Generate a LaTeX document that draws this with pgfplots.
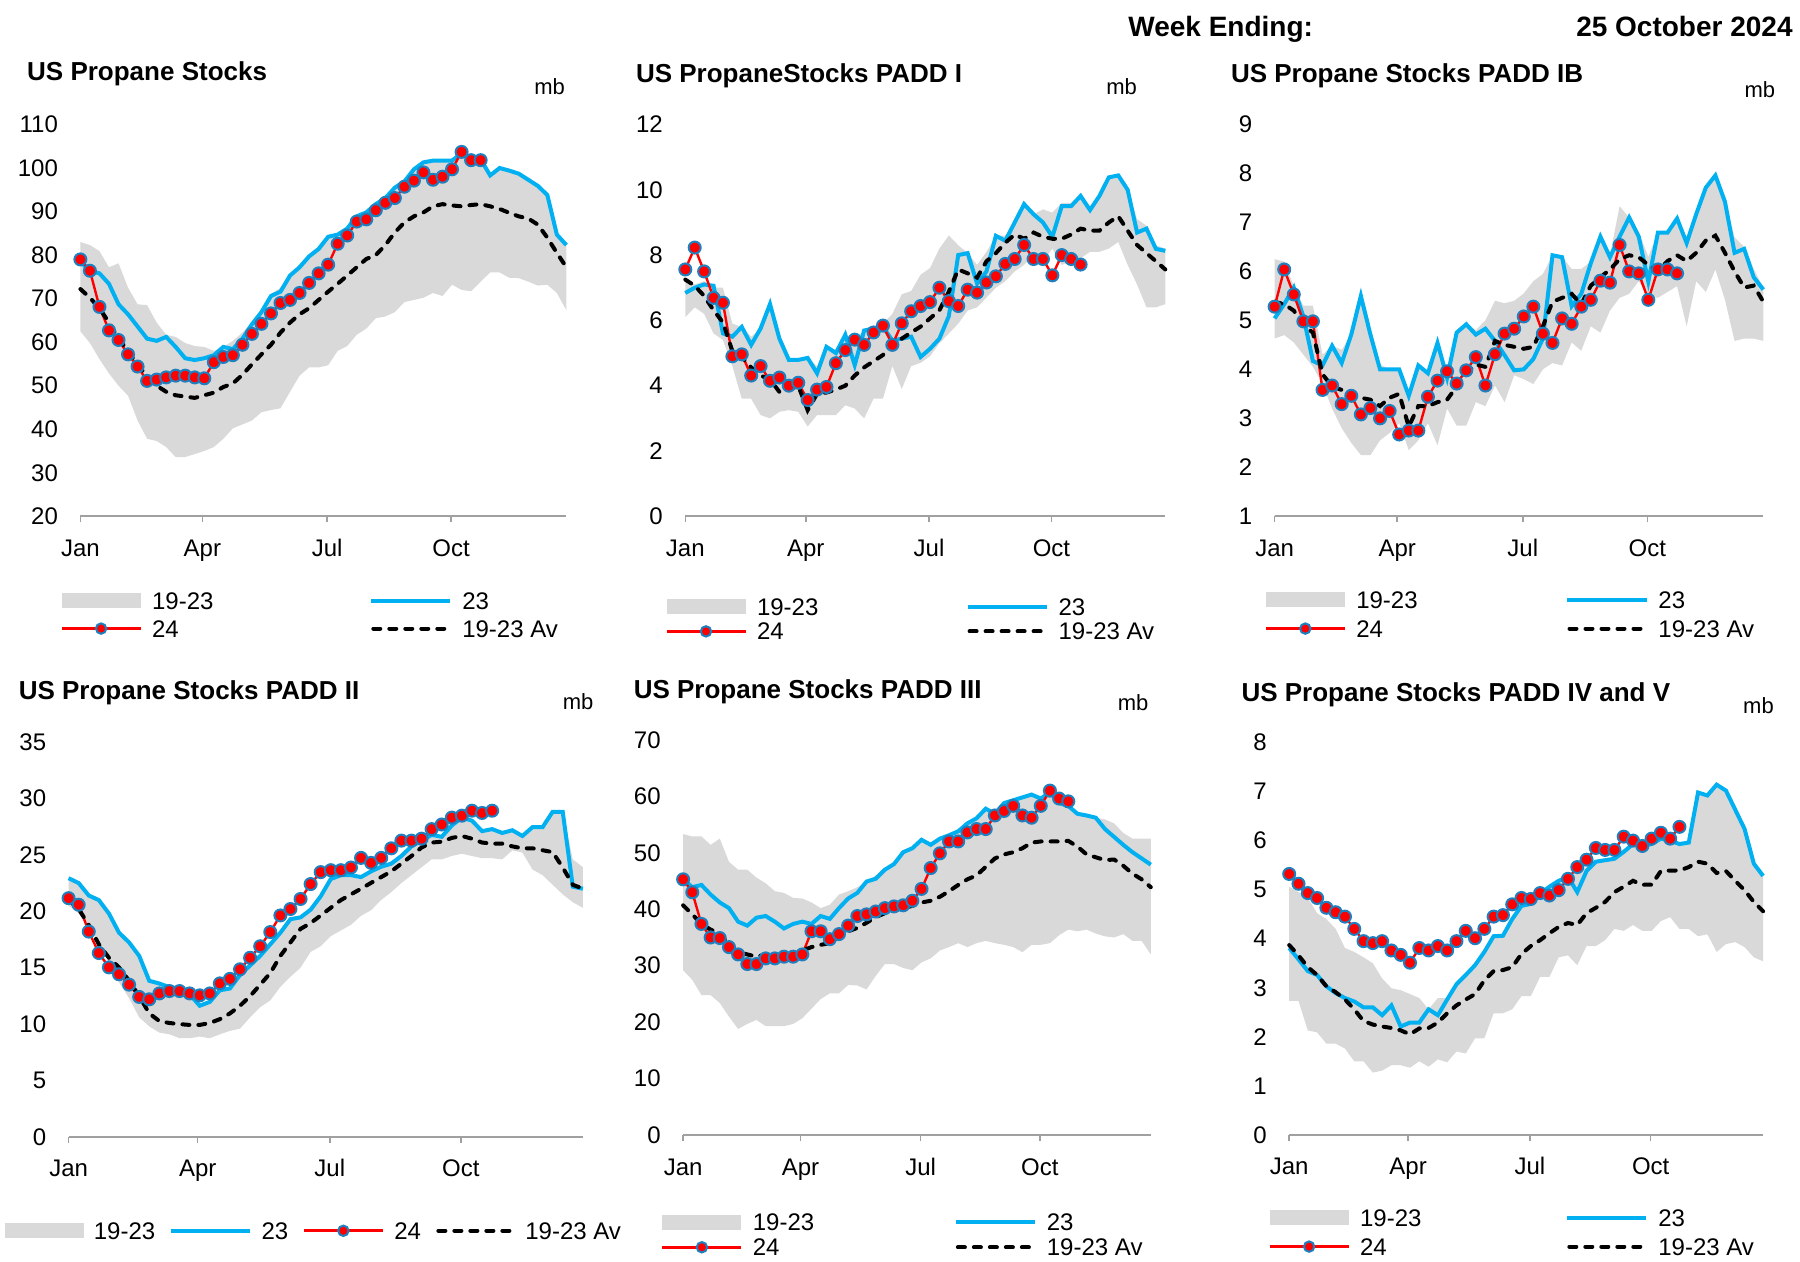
\documentclass[border=0pt]{standalone}
\usepackage{fontspec}
\setmainfont{Liberation Sans}
\usepackage{pgfplots}
\pgfplotsset{compat=1.18}
\usepackage{pgfplotstable}
\usepgfplotslibrary{fillbetween}
\definecolor{bandgray}{RGB}{217,217,217}
\definecolor{c23}{RGB}{0,176,240}
\definecolor{mkblue}{RGB}{30,128,190}
\definecolor{axisgray}{RGB}{160,160,160}
\pgfplotsset{
  panel/.style={
    scale only axis, anchor=south west, clip=false,
    xmin=0, xmax=51, enlargelimits=false,
    axis x line=bottom, axis y line=left,
    x axis line style={-, draw=axisgray, line width=0.8pt},
    y axis line style={draw=none},
    ytick style={draw=none},
    xtick={0,12.8,25.9,38.9}, xticklabels={Jan,Apr,Jul,Oct},
    xtick style={draw=axisgray, line width=0.8pt},
    tick align=outside, major tick length=3pt,
    tick label style={font=\fontsize{12}{14}\selectfont},
    /pgf/number format/assume math mode=true,
    xticklabel style={anchor=base, yshift=-17pt},
    yticklabel style={anchor=east, xshift=-4.7pt},
    legend cell align=left,
    legend style={draw=none, fill=none, inner sep=0pt, outer sep=0pt,
      font=\fontsize{12}{14}\selectfont, column sep=5pt,
      nodes={inner sep=0pt, text height=9.6pt, text depth=1pt}, anchor=north west},
  },
  band/.style={fill=bandgray, draw=none,
    legend image code/.code={\fill[bandgray] (0pt,-3.75pt) rectangle (39.5pt,3.75pt);}},
  l23/.style={c23, line width=2pt, no marks,
    legend image code/.code={\draw[c23, line width=2pt] (0pt,0pt) -- (39.5pt,0pt);}},
  l24/.style={red, line width=1.2pt, mark=*, mark size=3pt,
    mark options={fill=red, draw=mkblue, line width=1pt, solid},
    legend image code/.code={\draw[red, line width=1.5pt] (0pt,0pt) -- (39.5pt,0pt);
      \draw[mark=*, mark size=2.6pt, mark options={fill=red, draw=mkblue, line width=1pt}] plot coordinates {(19.75pt,0pt)};}},
  lav/.style={black, line width=2pt, line cap=round, dash pattern=on 3.5pt off 4.5pt, no marks,
    legend image code/.code={\draw[black, line width=2pt, line cap=round, dash pattern=on 3.5pt off 4.5pt] (1pt,0pt) -- (38.5pt,0pt);}},
}
% ---------------- US total
\pgfplotstableread[row sep=\\]{
w lo hi c av\\
0 62.5 83.0 78.5 72.2\\
1 59.8 82.3 76.4 70.2\\
2 56.1 80.9 75.8 67.8\\
3 52.8 77.2 73.4 64.5\\
4 50.0 78.1 68.7 60.8\\
5 47.7 72.5 66.4 58.0\\
6 42.0 68.7 63.6 54.7\\
7 37.8 68.5 60.8 52.3\\
8 37.3 64.5 60.3 50.0\\
9 35.9 61.7 61.2 48.6\\
10 33.6 61.2 58.9 47.8\\
11 33.6 59.8 56.3 47.5\\
12 34.3 59.1 55.9 47.2\\
13 35.0 58.9 56.3 47.8\\
14 35.9 58.0 57.0 48.4\\
15 37.8 58.9 58.9 49.7\\
16 40.2 60.3 58.4 50.5\\
17 41.1 62.2 60.8 52.5\\
18 42.0 64.5 64.1 54.9\\
19 43.9 67.3 66.9 57.2\\
20 44.4 71.1 70.6 59.4\\
21 44.8 72.5 71.6 62.2\\
22 48.6 75.3 75.3 64.5\\
23 52.3 77.2 77.2 66.4\\
24 54.2 79.7 79.7 67.8\\
25 54.2 81.4 81.4 69.7\\
26 54.7 84.2 84.2 71.6\\
27 58.0 84.7 84.7 73.4\\
28 59.1 86.1 86.1 75.3\\
29 61.7 88.9 88.9 77.2\\
30 63.1 89.8 89.8 79.1\\
31 65.5 91.7 91.7 80.0\\
32 65.9 93.1 93.1 82.3\\
33 66.9 95.5 95.5 85.2\\
34 69.2 96.9 96.9 87.5\\
35 69.7 99.7 99.7 88.9\\
36 70.2 101.3 101.3 89.8\\
37 71.3 101.7 101.7 91.2\\
38 70.6 101.7 101.7 91.7\\
39 73.2 101.7 101.7 91.4\\
40 72.0 103.4 103.4 91.2\\
41 71.7 102.0 102.0 91.5\\
42 73.9 102.0 102.0 91.7\\
43 76.0 98.7 98.3 91.2\\
44 76.0 100.0 100.0 90.6\\
45 74.8 99.4 99.4 89.7\\
46 74.7 98.7 98.7 88.9\\
47 73.9 97.3 97.3 88.4\\
48 73.0 95.9 95.9 87.0\\
49 73.2 94.1 93.8 84.0\\
50 71.3 85.2 84.7 80.5\\
51 67.3 82.8 82.3 77.2\\
}\tA
\pgfplotstableread[row sep=\\]{
v\\ 79.0\\ 76.4\\ 68.1\\ 62.7\\ 60.5\\ 57.2\\ 54.4\\ 51.1\\ 51.4\\ 51.9\\ 52.3\\ 52.3\\ 51.9\\ 51.7\\ 55.4\\ 56.6\\ 57.0\\ 59.4\\ 61.9\\ 64.2\\ 66.6\\ 69.0\\ 69.7\\ 71.3\\ 73.6\\ 75.8\\ 77.8\\ 82.6\\ 84.5\\ 87.7\\ 88.2\\ 90.3\\ 92.0\\ 93.1\\ 95.7\\ 97.1\\ 99.0\\ 97.3\\ 98.0\\ 99.7\\ 103.7\\ 101.8\\ 101.8\\
}\tAr
% ---------------- PADD I
\pgfplotstableread[row sep=\\]{
w lo hi c av\\
0 6.1 7.3 6.84 7.25\\
1 6.4 7.1 7.0 7.06\\
2 6.2 7.2 7.1 6.75\\
3 5.6 7.0 7.06 6.31\\
4 5.4 7.0 5.6 5.94\\
5 4.6 5.9 5.5 5.06\\
6 3.6 5.8 5.8 4.88\\
7 3.6 5.5 5.25 4.56\\
8 3.1 5.75 5.75 4.31\\
9 3.0 6.5 6.5 4.19\\
10 3.2 5.44 5.44 3.81\\
11 3.25 4.8 4.79 3.88\\
12 3.2 4.79 4.79 4.0\\
13 2.75 4.85 4.85 3.25\\
14 3.1 4.6 4.38 3.75\\
15 3.1 5.19 5.19 3.79\\
16 3.1 5.1 5.0 3.88\\
17 3.4 5.56 5.56 4.0\\
18 3.3 5.4 4.63 4.31\\
19 3.0 5.69 5.69 4.56\\
20 3.6 5.8 5.75 4.75\\
21 3.6 5.9 5.81 4.94\\
22 4.6 6.2 5.38 5.31\\
23 3.9 6.8 5.44 5.44\\
24 4.6 6.9 5.5 5.63\\
25 4.7 7.4 4.88 5.81\\
26 4.9 7.6 5.13 6.06\\
27 5.3 8.2 5.44 6.31\\
28 5.6 8.6 6.13 6.88\\
29 5.9 8.3 8.0 7.56\\
30 6.3 8.06 8.06 7.44\\
31 6.4 7.7 7.13 7.31\\
32 6.7 8.1 7.5 7.81\\
33 7.0 8.59 8.59 8.06\\
34 7.2 8.6 8.44 8.38\\
35 7.5 9.0 9.0 8.63\\
36 7.7 9.56 9.56 8.5\\
37 8.0 9.25 9.25 8.69\\
38 7.8 9.4 9.0 8.56\\
39 8.2 9.3 8.56 8.5\\
40 7.7 9.6 9.5 8.5\\
41 7.8 9.6 9.5 8.63\\
42 7.9 9.81 9.81 8.81\\
43 8.1 9.4 9.38 8.75\\
44 8.1 9.81 9.81 8.75\\
45 8.2 10.38 10.38 9.0\\
46 8.4 10.44 10.44 9.19\\
47 7.7 10.0 10.0 8.75\\
48 7.1 9.1 8.69 8.31\\
49 6.4 8.9 8.81 8.06\\
50 6.4 8.3 8.19 7.81\\
51 6.5 8.2 8.13 7.56\\
}\tB
\pgfplotstableread[row sep=\\]{
v\\ 7.56\\ 8.23\\ 7.5\\ 6.69\\ 6.54\\ 4.9\\ 4.96\\ 4.31\\ 4.6\\ 4.15\\ 4.25\\ 4.0\\ 4.09\\ 3.56\\ 3.88\\ 3.96\\ 4.69\\ 5.09\\ 5.41\\ 5.25\\ 5.63\\ 5.84\\ 5.25\\ 5.91\\ 6.28\\ 6.44\\ 6.56\\ 7.0\\ 6.59\\ 6.44\\ 6.94\\ 6.85\\ 7.16\\ 7.35\\ 7.73\\ 7.88\\ 8.31\\ 7.88\\ 7.88\\ 7.38\\ 8.0\\ 7.88\\ 7.71\\
}\tBr
% ---------------- PADD IB
\pgfplotstableread[row sep=\\]{
w lo hi c av\\
0 4.63 6.25 5.04 5.38\\
1 4.7 6.2 5.33 5.33\\
2 4.55 5.7 5.67 5.2\\
3 4.3 5.3 5.08 4.9\\
4 4.05 5.3 4.17 4.75\\
5 3.7 4.3 4.08 3.9\\
6 3.2 4.48 4.48 3.65\\
7 2.8 4.4 4.13 3.58\\
8 2.5 4.71 4.71 3.46\\
9 2.25 5.5 5.5 3.42\\
10 2.25 4.71 4.71 3.38\\
11 2.55 4.1 4.0 3.25\\
12 2.7 4.0 4.0 3.42\\
13 2.9 4.0 4.0 3.5\\
14 2.35 3.5 3.46 2.83\\
15 2.55 4.1 4.08 3.25\\
16 2.9 3.95 3.92 3.25\\
17 2.45 4.54 4.54 3.33\\
18 3.2 3.9 3.83 3.38\\
19 2.85 4.8 4.75 3.65\\
20 2.85 4.95 4.92 3.92\\
21 3.33 4.8 4.71 4.1\\
22 3.25 5.0 4.83 4.05\\
23 3.67 5.4 4.58 4.58\\
24 3.33 5.35 4.29 4.5\\
25 3.88 5.4 3.98 4.46\\
26 3.8 5.55 4.0 4.42\\
27 3.7 5.8 4.21 4.46\\
28 4.0 5.95 4.63 4.88\\
29 4.13 6.33 6.33 5.38\\
30 4.08 6.3 6.29 5.46\\
31 4.55 6.05 5.29 5.54\\
32 4.38 6.05 5.54 5.33\\
33 4.88 6.2 6.17 5.71\\
34 4.75 6.71 6.71 5.88\\
35 5.2 6.33 6.29 6.04\\
36 5.46 7.33 6.71 6.25\\
37 5.54 7.1 7.1 6.33\\
38 5.8 6.8 6.71 6.29\\
39 5.5 6.3 5.79 6.13\\
40 5.46 6.8 6.79 6.0\\
41 5.58 6.8 6.79 6.21\\
42 5.7 7.1 7.08 6.33\\
43 4.88 6.6 6.58 6.21\\
44 5.8 7.2 7.17 6.38\\
45 5.58 7.71 7.71 6.63\\
46 6.04 7.96 7.96 6.73\\
47 5.42 7.42 7.42 6.38\\
48 4.58 6.7 6.38 6.0\\
49 4.63 6.5 6.46 5.67\\
50 4.63 6.05 5.88 5.71\\
51 4.58 5.67 5.63 5.38\\
}\tC
\pgfplotstableread[row sep=\\]{
v\\ 5.28\\ 6.04\\ 5.53\\ 4.98\\ 4.98\\ 3.58\\ 3.67\\ 3.29\\ 3.46\\ 3.08\\ 3.21\\ 3.0\\ 3.15\\ 2.67\\ 2.75\\ 2.75\\ 3.44\\ 3.77\\ 3.96\\ 3.71\\ 3.98\\ 4.25\\ 3.67\\ 4.31\\ 4.73\\ 4.83\\ 5.08\\ 5.28\\ 4.73\\ 4.54\\ 5.04\\ 4.93\\ 5.28\\ 5.42\\ 5.81\\ 5.77\\ 6.54\\ 6.0\\ 5.96\\ 5.42\\ 6.04\\ 6.04\\ 5.96\\
}\tCr
% ---------------- PADD II
\pgfplotstableread[row sep=\\]{
w lo hi c av\\
0 20.5 22.93 22.93 20.99\\
1 19.8 22.5 22.5 20.2\\
2 18.8 21.4 21.4 18.78\\
3 17.1 20.99 20.99 17.07\\
4 15.5 19.8 19.8 15.88\\
5 13.7 18.1 18.1 15.03\\
6 12.3 17.24 17.24 13.84\\
7 10.6 16.05 16.05 12.48\\
8 9.8 13.84 13.84 10.95\\
9 9.25 13.6 13.6 10.27\\
10 9.1 13.27 13.27 10.1\\
11 8.75 13.16 13.16 10.0\\
12 8.75 12.65 12.65 9.93\\
13 8.9 11.8 11.63 9.93\\
14 8.75 12.0 11.97 10.1\\
15 9.1 13.0 13.0 10.44\\
16 9.4 13.3 13.16 10.95\\
17 9.6 14.35 14.35 11.63\\
18 10.6 15.2 15.2 12.48\\
19 11.5 16.05 16.05 13.5\\
20 12.1 17.07 17.07 14.52\\
21 13.3 18.1 18.1 16.05\\
22 14.2 19.3 19.3 17.24\\
23 15.0 19.5 19.46 18.44\\
24 16.4 20.14 20.14 18.95\\
25 16.9 21.33 21.33 19.63\\
26 17.8 22.86 22.86 20.31\\
27 18.3 23.2 23.2 20.99\\
28 18.8 23.2 23.2 21.5\\
29 19.6 23.03 23.03 22.0\\
30 20.1 23.54 23.54 22.52\\
31 21.0 23.95 23.95 23.03\\
32 21.7 24.22 24.22 23.54\\
33 22.5 24.9 24.9 24.22\\
34 23.2 25.75 25.75 24.9\\
35 23.9 26.26 26.26 25.65\\
36 24.6 26.77 26.77 26.09\\
37 24.6 26.6 26.6 26.16\\
38 24.9 27.8 27.6 26.5\\
39 25.1 28.3 28.3 26.67\\
40 24.9 28.03 28.03 26.43\\
41 24.7 27.1 27.1 26.09\\
42 24.7 27.28 27.28 25.99\\
43 24.6 26.94 26.94 25.99\\
44 25.4 27.18 27.18 25.75\\
45 25.2 26.67 26.67 25.58\\
46 23.7 27.45 27.45 25.58\\
47 23.2 27.45 27.45 25.41\\
48 22.35 28.81 28.81 25.24\\
49 21.5 28.81 28.81 23.88\\
50 20.8 24.6 22.18 22.35\\
51 20.3 23.9 22.0 22.0\\
}\tD
\pgfplotstableread[row sep=\\]{
v\\ 21.16\\ 20.58\\ 18.2\\ 16.3\\ 15.03\\ 14.42\\ 13.5\\ 12.41\\ 12.2\\ 12.72\\ 12.93\\ 12.93\\ 12.72\\ 12.55\\ 12.72\\ 13.61\\ 14.01\\ 14.86\\ 15.88\\ 16.9\\ 18.16\\ 19.63\\ 20.2\\ 21.09\\ 22.41\\ 23.47\\ 23.64\\ 23.64\\ 23.88\\ 24.73\\ 24.29\\ 24.73\\ 25.58\\ 26.26\\ 26.26\\ 26.43\\ 27.28\\ 27.69\\ 28.3\\ 28.47\\ 28.91\\ 28.71\\ 28.91\\
}\tDr
% ---------------- PADD III
\pgfplotstableread[row sep=\\]{
w lo hi c av\\
0 29.2 53.3 45.3 40.7\\
1 27.5 52.9 43.9 39.1\\
2 24.8 52.9 44.3 37.4\\
3 24.8 51.4 42.6 36.4\\
4 23.4 52.5 41.2 35.7\\
5 21.0 48.4 40.2 33.7\\
6 18.8 47.0 37.8 32.4\\
7 19.7 47.0 37.1 32.0\\
8 20.4 45.6 38.5 31.6\\
9 19.3 44.6 38.8 32.0\\
10 19.3 43.2 37.8 32.0\\
11 19.3 42.9 36.6 31.5\\
12 19.7 42.0 37.4 31.8\\
13 20.7 41.9 37.8 32.7\\
14 22.4 41.2 37.4 33.3\\
15 24.1 40.2 38.8 33.7\\
16 25.1 40.8 38.3 34.0\\
17 25.1 42.6 40.2 35.2\\
18 26.6 43.2 41.9 36.1\\
19 26.5 43.9 42.9 36.7\\
20 25.8 44.9 44.9 37.6\\
21 28.2 46.0 45.4 38.6\\
22 30.3 47.0 47.0 39.3\\
23 30.3 48.0 48.0 39.8\\
24 29.6 50.1 50.1 40.2\\
25 29.2 50.8 50.8 40.6\\
26 30.6 52.3 52.3 41.2\\
27 31.3 51.4 51.4 41.5\\
28 32.7 52.5 52.5 42.2\\
29 33.3 53.1 53.1 43.2\\
30 34.0 53.8 53.8 44.3\\
31 33.3 55.2 55.2 45.3\\
32 34.0 56.1 56.1 46.0\\
33 34.4 57.8 57.8 47.5\\
34 34.0 56.9 56.9 49.0\\
35 33.7 58.8 58.8 49.7\\
36 33.3 59.3 59.3 50.1\\
37 32.4 59.8 59.8 50.8\\
38 33.7 60.3 60.3 51.8\\
39 33.7 59.6 59.6 52.0\\
40 34.0 60.7 60.7 52.0\\
41 35.4 58.8 58.8 52.0\\
42 36.4 58.3 58.3 52.1\\
43 36.1 56.9 56.9 51.1\\
44 36.4 56.6 56.6 49.7\\
45 35.7 56.2 56.2 49.2\\
46 35.2 55.9 54.2 48.7\\
47 35.0 55.2 52.8 48.8\\
48 35.6 53.5 51.4 47.7\\
49 34.4 52.5 50.1 46.3\\
50 34.4 52.5 49.0 45.3\\
51 32.0 52.5 47.9 43.9\\
}\tE
\pgfplotstableread[row sep=\\]{
v\\ 45.3\\ 43.0\\ 37.4\\ 35.0\\ 34.9\\ 33.3\\ 32.0\\ 30.3\\ 30.3\\ 31.3\\ 31.3\\ 31.6\\ 31.6\\ 32.0\\ 36.1\\ 36.1\\ 34.7\\ 35.6\\ 37.1\\ 38.8\\ 39.1\\ 39.6\\ 40.2\\ 40.5\\ 40.7\\ 41.5\\ 43.6\\ 47.3\\ 49.9\\ 52.0\\ 52.0\\ 53.6\\ 54.2\\ 54.2\\ 56.6\\ 57.4\\ 58.3\\ 56.6\\ 56.2\\ 58.3\\ 61.0\\ 59.6\\ 59.1\\
}\tEr
% ---------------- PADD IV and V
\pgfplotstableread[row sep=\\]{
w lo hi c av\\
0 2.73 5.06 3.81 3.87\\
1 2.73 4.95 3.58 3.66\\
2 2.13 4.83 3.34 3.42\\
3 2.09 4.52 3.26 3.26\\
4 1.86 4.4 3.03 3.03\\
5 1.86 4.2 2.89 2.91\\
6 1.76 3.81 2.79 2.76\\
7 1.5 3.73 2.72 2.56\\
8 1.5 3.62 2.6 2.32\\
9 1.27 3.5 2.6 2.25\\
10 1.31 3.19 2.44 2.21\\
11 1.42 2.99 2.64 2.18\\
12 1.42 2.95 2.21 2.13\\
13 1.37 2.87 2.29 2.05\\
14 1.5 2.79 2.29 2.17\\
15 1.39 2.56 2.56 2.18\\
16 1.54 2.79 2.44 2.29\\
17 1.48 2.79 2.76 2.48\\
18 1.7 3.07 3.07 2.64\\
19 1.66 3.26 3.26 2.76\\
20 1.97 3.46 3.46 2.87\\
21 1.97 3.73 3.73 3.15\\
22 2.48 4.05 4.05 3.34\\
23 2.48 4.09 4.06 3.36\\
24 2.56 4.4 4.4 3.42\\
25 2.83 4.67 4.67 3.69\\
26 2.83 4.71 4.71 3.85\\
27 3.22 4.91 4.91 3.97\\
28 3.22 5.06 5.06 4.11\\
29 3.62 5.18 5.18 4.24\\
30 3.66 5.26 5.26 4.32\\
31 3.46 5.34 4.95 4.28\\
32 3.85 5.46 5.38 4.52\\
33 3.85 5.57 5.57 4.63\\
34 3.97 5.6 5.6 4.75\\
35 4.2 5.63 5.63 4.95\\
36 4.16 5.77 5.77 5.06\\
37 4.28 5.93 5.93 5.18\\
38 4.16 5.89 5.89 5.1\\
39 4.16 5.93 5.93 5.1\\
40 4.36 6.04 6.04 5.38\\
41 4.44 6.0 6.0 5.39\\
42 4.2 5.93 5.93 5.39\\
43 4.2 5.96 5.96 5.46\\
44 4.05 6.98 6.98 5.57\\
45 4.09 6.92 6.92 5.53\\
46 3.73 7.14 7.14 5.34\\
47 3.89 7.02 7.02 5.38\\
48 3.93 6.63 6.63 5.18\\
49 3.83 6.24 6.24 4.99\\
50 3.62 5.53 5.53 4.75\\
51 3.54 5.28 5.28 4.56\\
}\tF
\pgfplotstableread[row sep=\\]{
v\\ 5.32\\ 5.12\\ 4.93\\ 4.83\\ 4.63\\ 4.54\\ 4.45\\ 4.2\\ 3.95\\ 3.91\\ 3.95\\ 3.76\\ 3.67\\ 3.51\\ 3.81\\ 3.76\\ 3.85\\ 3.76\\ 3.95\\ 4.16\\ 4.01\\ 4.2\\ 4.45\\ 4.48\\ 4.7\\ 4.83\\ 4.81\\ 4.93\\ 4.88\\ 4.99\\ 5.22\\ 5.46\\ 5.61\\ 5.85\\ 5.81\\ 5.81\\ 6.08\\ 6.0\\ 5.89\\ 6.04\\ 6.16\\ 6.04\\ 6.28\\
}\tFr
\newcommand{\ttl}{\bfseries\fontsize{13}{15}\selectfont}
\newcommand{\mbf}{\fontsize{11}{13}\selectfont}
\begin{document}
\begin{tikzpicture}
\path (0,0) rectangle (900pt,631pt);
% header
\node[anchor=base west, inner sep=0pt, font=\bfseries\fontsize{14}{16}\selectfont] at (564pt,612.75pt) {Week Ending:};
\node[anchor=base east, inner sep=0pt, font=\bfseries\fontsize{14}{16}\selectfont] at (896.5pt,612.75pt) {25 October 2024};
% titles and units
\node[anchor=base west, inner sep=0pt, font=\ttl] at (13.4pt,590.65pt) {US Propane Stocks};
\node[anchor=base west, inner sep=0pt, font=\ttl] at (317.8pt,589.6pt) {US PropaneStocks PADD I};
\node[anchor=base west, inner sep=0pt, font=\ttl] at (615.3pt,589.6pt) {US Propane Stocks PADD IB};
\node[anchor=base west, inner sep=0pt, font=\ttl] at (9.2pt,281pt) {US Propane Stocks PADD II};
\node[anchor=base west, inner sep=0pt, font=\ttl] at (316.7pt,281.95pt) {US Propane Stocks PADD III};
\node[anchor=base west, inner sep=0pt, font=\ttl] at (620.55pt,280.4pt) {US Propane Stocks PADD IV and V};
\node[anchor=base west, inner sep=0pt, font=\mbf] at (266.95pt,583.5pt) {mb};
\node[anchor=base west, inner sep=0pt, font=\mbf] at (552.95pt,583.5pt) {mb};
\node[anchor=base west, inner sep=0pt, font=\mbf] at (872.1pt,582.1pt) {mb};
\node[anchor=base west, inner sep=0pt, font=\mbf] at (281.2pt,276.25pt) {mb};
\node[anchor=base west, inner sep=0pt, font=\mbf] at (558.75pt,275.9pt) {mb};
\node[anchor=base west, inner sep=0pt, font=\mbf] at (871.4pt,274.35pt) {mb};

% ---- Panel 1
\begin{axis}[panel, at={(40.2pt,372.85pt)}, width=243pt, height=195.9pt,
  ymin=20, ymax=110, ytick={20,30,...,110},
  legend columns=2, legend style={at={(-0.0418,-0.1886)}, row sep=3.3pt}]
\addplot[name path=loA, draw=none, no marks, forget plot] table[x=w,y=lo]{\tA};
\addplot[name path=hiA, draw=none, no marks, forget plot] table[x=w,y=hi]{\tA};
\addplot[band] fill between[of=loA and hiA];
\addlegendentry{\makebox[103.6pt][l]{19-23}}
\addplot[l23] table[x=w,y=c]{\tA};
\addlegendentry{23}
\addplot[l24] table[x expr=\coordindex,y=v]{\tAr};
\addlegendentry{24}
\addplot[lav] table[x=w,y=av]{\tA};
\addlegendentry{19-23 Av}
\end{axis}

% ---- Panel 2
\begin{axis}[panel, at={(342.65pt,372.85pt)}, width=240pt, height=195.9pt,
  ymin=0, ymax=12, ytick={0,2,...,12},
  legend columns=2, legend style={at={(-0.0423,-0.2044)}, row sep=1.6pt}]
\addplot[name path=loB, draw=none, no marks, forget plot] table[x=w,y=lo]{\tB};
\addplot[name path=hiB, draw=none, no marks, forget plot] table[x=w,y=hi]{\tB};
\addplot[band] fill between[of=loB and hiB];
\addlegendentry{\makebox[99.3pt][l]{19-23}}
\addplot[l23] table[x=w,y=c]{\tB};
\addlegendentry{23}
\addplot[l24] table[x expr=\coordindex,y=v]{\tBr};
\addlegendentry{24}
\addplot[lav] table[x=w,y=av]{\tB};
\addlegendentry{19-23 Av}
\end{axis}

% ---- Panel 3
\begin{axis}[panel, at={(637.3pt,372.85pt)}, width=244.35pt, height=195.9pt,
  ymin=1, ymax=9, ytick={1,2,...,9},
  legend columns=2, legend style={at={(-0.0211,-0.1866)}, row sep=3.7pt}]
\addplot[name path=loC, draw=none, no marks, forget plot] table[x=w,y=lo]{\tC};
\addplot[name path=hiC, draw=none, no marks, forget plot] table[x=w,y=hi]{\tC};
\addplot[band] fill between[of=loC and hiC];
\addlegendentry{\makebox[99.6pt][l]{19-23}}
\addplot[l23] table[x=w,y=c]{\tC};
\addlegendentry{23}
\addplot[l24] table[x expr=\coordindex,y=v]{\tCr};
\addlegendentry{24}
\addplot[lav] table[x=w,y=av]{\tC};
\addlegendentry{19-23 Av}
\end{axis}

% ---- Panel 4
\begin{axis}[panel, at={(34.3pt,62.5pt)}, width=257.15pt, height=197.5pt,
  ymin=0, ymax=35, ytick={0,5,...,35},
  legend columns=4, legend style={at={(-0.1239,-0.2106)}}]
\addplot[name path=loD, draw=none, no marks, forget plot] table[x=w,y=lo]{\tD};
\addplot[name path=hiD, draw=none, no marks, forget plot] table[x=w,y=hi]{\tD};
\addplot[band] fill between[of=loD and hiD];
\addlegendentry{\makebox[32.35pt][l]{19-23}}
\addplot[l23] table[x=w,y=c]{\tD};
\addlegendentry{\makebox[15.4pt][l]{23}}
\addplot[l24] table[x expr=\coordindex,y=v]{\tDr};
\addlegendentry{\makebox[16pt][l]{24}}
\addplot[lav] table[x=w,y=av]{\tD};
\addlegendentry{19-23 Av}
\end{axis}

% ---- Panel 5
\begin{axis}[panel, at={(341.55pt,63.4pt)}, width=233.85pt, height=197.7pt,
  ymin=0, ymax=70, ytick={0,10,...,70},
  legend columns=2, legend style={at={(-0.0475,-0.1937)}, row sep=1.85pt}]
\addplot[name path=loE, draw=none, no marks, forget plot] table[x=w,y=lo]{\tE};
\addplot[name path=hiE, draw=none, no marks, forget plot] table[x=w,y=hi]{\tE};
\addplot[band] fill between[of=loE and hiE];
\addlegendentry{\makebox[95.5pt][l]{19-23}}
\addplot[l23] table[x=w,y=c]{\tE};
\addlegendentry{23}
\addplot[l24] table[x expr=\coordindex,y=v]{\tEr};
\addlegendentry{24}
\addplot[lav] table[x=w,y=av]{\tE};
\addlegendentry{19-23 Av}
\end{axis}

% ---- Panel 6
\begin{axis}[panel, at={(644.6pt,63.55pt)}, width=236.95pt, height=196.2pt,
  ymin=0, ymax=8, ytick={0,1,...,8},
  legend columns=2, legend style={at={(-0.0445,-0.1843)}, row sep=3.8pt}]
\addplot[name path=loF, draw=none, no marks, forget plot] table[x=w,y=lo]{\tF};
\addplot[name path=hiF, draw=none, no marks, forget plot] table[x=w,y=hi]{\tF};
\addplot[band] fill between[of=loF and hiF];
\addlegendentry{\makebox[97.6pt][l]{19-23}}
\addplot[l23] table[x=w,y=c]{\tF};
\addlegendentry{23}
\addplot[l24] table[x expr=\coordindex,y=v]{\tFr};
\addlegendentry{24}
\addplot[lav] table[x=w,y=av]{\tF};
\addlegendentry{19-23 Av}
\end{axis}
\end{tikzpicture}
\end{document}
